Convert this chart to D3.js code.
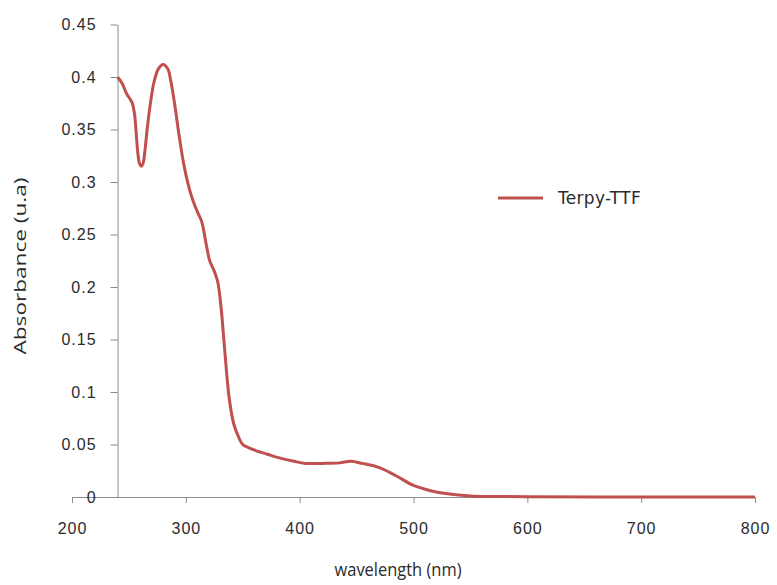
<!DOCTYPE html>
<html>
<head>
<meta charset="utf-8">
<script src="https://cdn.jsdelivr.net/npm/d3@7"></script>
<style>
  html, body { margin: 0; padding: 0; background: #fff; }
  svg { display: block; font-family: "DejaVu Sans", "Open Sans", sans-serif; }
</style>
</head>
<body>
<svg id="chart" width="777" height="585"></svg>
<script>
// UV-Vis absorption spectrum of Terpy-TTF
const wavelength = [240, 244, 248, 251, 253, 255, 256.5, 258, 259.5, 261, 262.5, 264, 266, 268.5, 272, 276, 280, 284, 287, 290.5, 294, 298, 302, 306, 310, 314, 318, 321, 325, 328, 331, 334, 338, 342, 346, 350, 355, 362, 371, 383, 395, 405, 420, 435, 445, 455, 470, 485, 500, 515, 530, 550, 570, 600, 700, 800];
const absorbance = [0.400, 0.394, 0.384, 0.379, 0.375, 0.364, 0.345, 0.326, 0.317, 0.315, 0.318, 0.329, 0.350, 0.372, 0.395, 0.408, 0.412, 0.408, 0.395, 0.372, 0.345, 0.318, 0.298, 0.283, 0.272, 0.262, 0.240, 0.225, 0.215, 0.205, 0.180, 0.142, 0.095, 0.070, 0.058, 0.050, 0.047, 0.044, 0.041, 0.037, 0.034, 0.032, 0.032, 0.0325, 0.034, 0.032, 0.028, 0.020, 0.011, 0.006, 0.003, 0.001, 0.0005, 0.0003, 0, 0];
const seriesName = "Terpy-TTF";
const xTicks = [200, 300, 400, 500, 600, 700, 800];
const yTicks = [0, 0.05, 0.1, 0.15, 0.2, 0.25, 0.3, 0.35, 0.4, 0.45];

const svg = d3.select("#chart");
const x = d3.scaleLinear().domain([200, 800]).range([72, 755]);
const y = d3.scaleLinear().domain([0, 0.45]).range([497, 24.5]);
const axisColor = "#8c8c8c";
const textColor = "#2b2b2b";
const lineColor = "#c0504d";

// horizontal axis
const gx = svg.append("g").attr("transform", `translate(0,${y(0)})`)
  .call(d3.axisBottom(x).tickValues(xTicks).tickSize(6).tickSizeOuter(0).tickPadding(20));
gx.select(".domain").attr("stroke", axisColor);
gx.selectAll(".tick line").attr("stroke", axisColor);
gx.selectAll(".tick text").attr("fill", textColor)
  .style("font-size", "16px").style("letter-spacing", "1px").attr("dy", "0.71em");

// vertical axis crossing at 240 nm
const gy = svg.append("g").attr("transform", `translate(${x(240)},0)`)
  .call(d3.axisLeft(y).tickValues(yTicks).tickSize(7).tickSizeOuter(0).tickPadding(14)
    .tickFormat(d => d3.format("")(+d.toFixed(2))));
gy.select(".domain").attr("stroke", axisColor);
gy.selectAll(".tick line").attr("stroke", axisColor);
gy.selectAll(".tick text").attr("fill", textColor)
  .style("font-size", "16px").style("letter-spacing", "1px");

// spectrum
const line = d3.line().x((d, i) => x(wavelength[i])).y(d => y(d)).curve(d3.curveCatmullRom.alpha(0.5));
svg.append("path").datum(absorbance)
  .attr("d", line)
  .attr("fill", "none")
  .attr("stroke", lineColor)
  .attr("stroke-width", 3)
  .attr("stroke-linejoin", "round");

// legend
svg.append("line").attr("x1", 498).attr("x2", 543).attr("y1", 198).attr("y2", 198)
  .attr("stroke", lineColor).attr("stroke-width", 3);
svg.append("text").attr("x", 558).attr("y", 204).text(seriesName)
  .attr("fill", textColor).style("font-size", "17px").style("letter-spacing", "0.3px");

// axis titles
svg.append("text").attr("x", 398).attr("y", 576).attr("text-anchor", "middle")
  .attr("fill", textColor).style("font-family", "'Open Sans', sans-serif").style("font-size", "18px")
  .attr("textLength", 127).attr("lengthAdjust", "spacingAndGlyphs")
  .text("wavelength (nm)");
svg.append("text").attr("transform", "translate(26,266) rotate(-90)").attr("text-anchor", "middle")
  .attr("fill", textColor).style("font-family", "'Open Sans', sans-serif").style("font-size", "17px")
  .attr("textLength", 177).attr("lengthAdjust", "spacingAndGlyphs")
  .text("Absorbance (u.a)");
</script>
</body>
</html>
